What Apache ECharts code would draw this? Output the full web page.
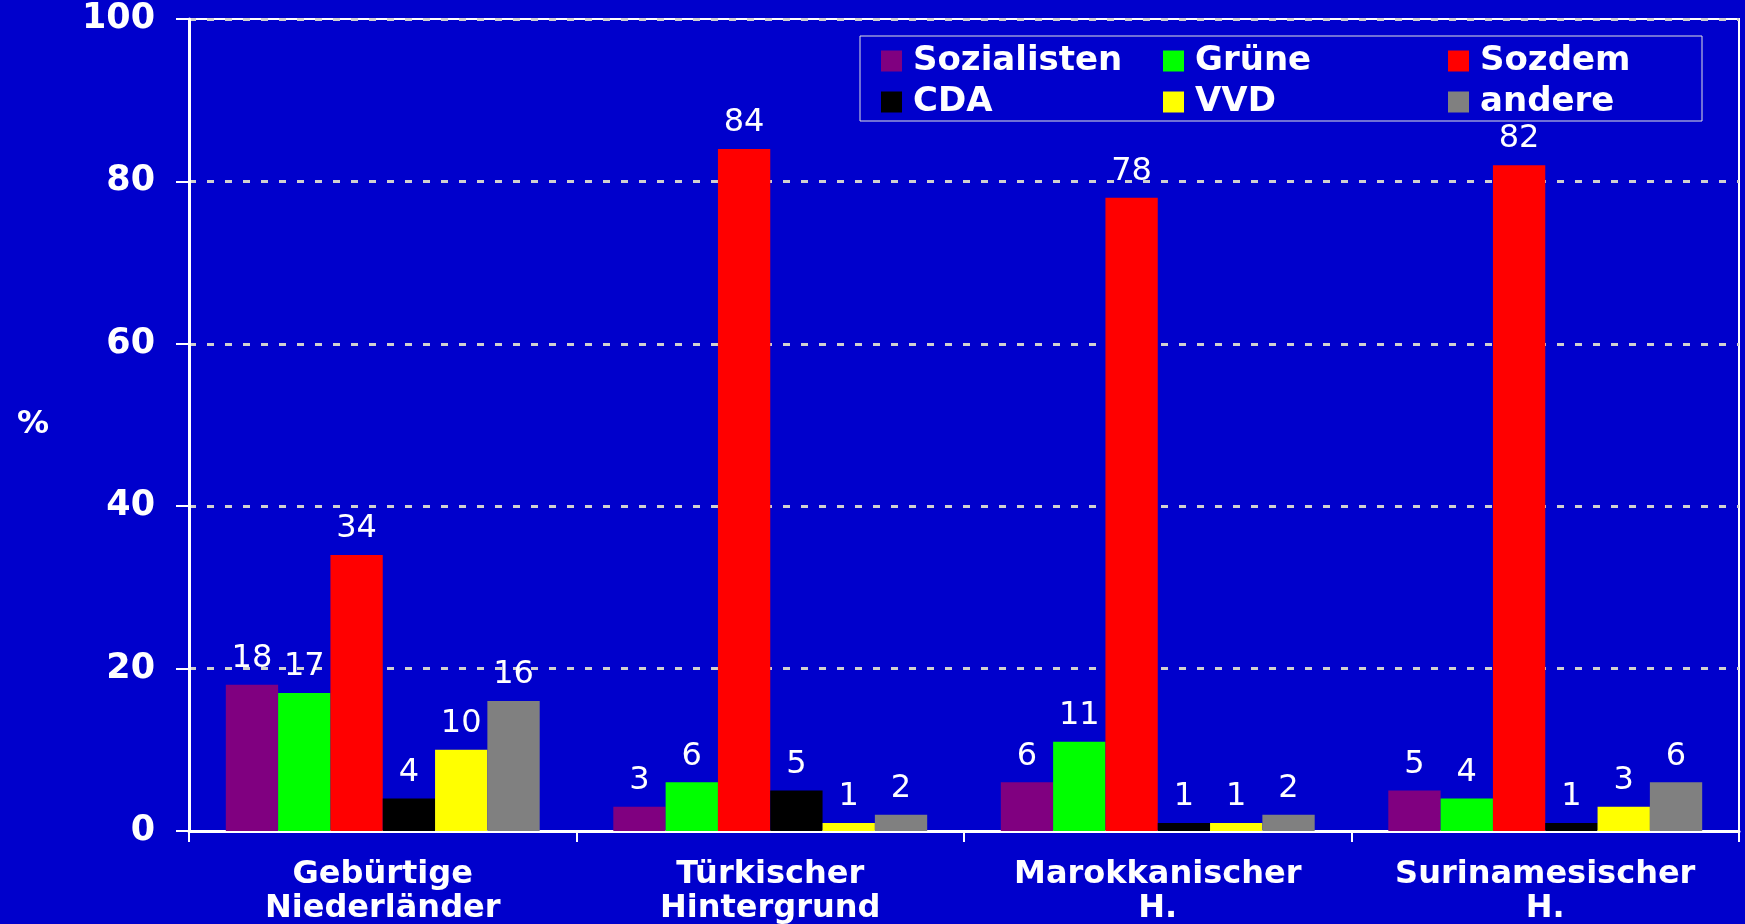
<!DOCTYPE html>
<html>
<head>
<meta charset="utf-8">
<script src="https://cdn.jsdelivr.net/npm/echarts@6/dist/echarts.min.js"></script>
<style>
  html, body { margin: 0; padding: 0; background: #0000cc; }
  #chart { width: 1745px; height: 924px; }
</style>
</head>
<body>
<div id="chart"></div>
<script>
var categories = ['Gebürtige\nNiederländer', 'Türkischer\nHintergrund', 'Marokkanischer\nH.', 'Surinamesischer\nH.'];
var sozialisten = [18, 3, 6, 5];
var gruene = [17, 6, 11, 4];
var sozdem = [34, 84, 78, 82];
var cda = [4, 5, 1, 1];
var vvd = [10, 1, 1, 3];
var andere = [16, 2, 2, 6];
var yTicks = [0, 20, 40, 60, 80, 100];

var seriesDefs = [
    ['Sozialisten', sozialisten, '#800080'],
    ['Grüne', gruene, '#00ff00'],
    ['Sozdem', sozdem, '#ff0000'],
    ['CDA', cda, '#000000'],
    ['VVD', vvd, '#ffff00'],
    ['andere', andere, '#808080']
];

var chart = echarts.init(document.getElementById('chart'), null, {renderer: 'canvas'});

var legendText = {
    color: '#ffffff',
    fontFamily: 'DejaVu Sans',
    fontWeight: 'bold',
    fontSize: 34,
    lineHeight: 21,
    padding: [0, 0, 0, 6]
};
function legendCol(left, names) {
    return {
        orient: 'vertical',
        left: left,
        top: 39,
        itemWidth: 21,
        itemHeight: 21,
        itemGap: 7,
        icon: 'rect',
        data: names,
        textStyle: legendText,
        selectedMode: false
    };
}

var option = {
    backgroundColor: '#0000cc',
    animation: false,
    grid: {
        left: 189,
        right: 6,
        top: 19,
        bottom: 93,
        outerBoundsMode: 'none',
        show: true,
        borderColor: '#ffffff',
        borderWidth: 2,
        backgroundColor: 'transparent'
    },
    legend: [
        legendCol(876, ['Sozialisten', 'CDA']),
        legendCol(1158, ['Grüne', 'VVD']),
        legendCol(1443, ['Sozdem', 'andere'])
    ],
    graphic: [{
        type: 'rect',
        shape: {x: 860, y: 36, width: 842, height: 85},
        style: {fill: 'transparent', stroke: '#e0e0e0', lineWidth: 1},
        z: 10
    }],
    xAxis: {
        type: 'category',
        data: categories,
        axisLine: {lineStyle: {color: '#ffffff', width: 3}},
        axisTick: {show: true, interval: 0, length: 11, lineStyle: {color: '#ffffff', width: 2}},
        axisLabel: {
            interval: 0,
            color: '#ffffff',
            fontFamily: 'DejaVu Sans',
            fontWeight: 'bold',
            fontSize: 32,
            lineHeight: 34,
            margin: 27
        }
    },
    yAxis: {
        type: 'value',
        min: 0,
        max: 100,
        interval: 20,
        name: '%',
        nameLocation: 'middle',
        nameRotate: 0,
        nameGap: 140,
        nameTextStyle: {
            color: '#ffffff',
            fontFamily: 'DejaVu Sans',
            fontWeight: 'bold',
            fontSize: 32
        },
        axisLine: {show: true, lineStyle: {color: '#ffffff', width: 3}},
        axisTick: {show: true, length: 13, lineStyle: {color: '#ffffff', width: 2}},
        axisLabel: {
            color: '#ffffff',
            fontFamily: 'DejaVu Sans',
            fontWeight: 'bold',
            fontSize: 35,
            margin: 34,
            formatter: function (v) { return yTicks.indexOf(v) >= 0 ? String(v) : ''; }
        },
        splitLine: {
            show: true,
            lineStyle: {color: '#d0d0d0', width: 3, type: [7, 11]}
        }
    },
    series: seriesDefs.map(function (d) {
        return {
            name: d[0],
            type: 'bar',
            data: d[1],
            barGap: 0,
            barCategoryGap: '19%',
            itemStyle: {color: d[2]},
            label: {
                show: true,
                position: 'top',
                distance: 10,
                color: '#ffffff',
                fontFamily: 'DejaVu Sans',
                fontSize: 32
            }
        };
    })
};

chart.setOption(option);
</script>
</body>
</html>
